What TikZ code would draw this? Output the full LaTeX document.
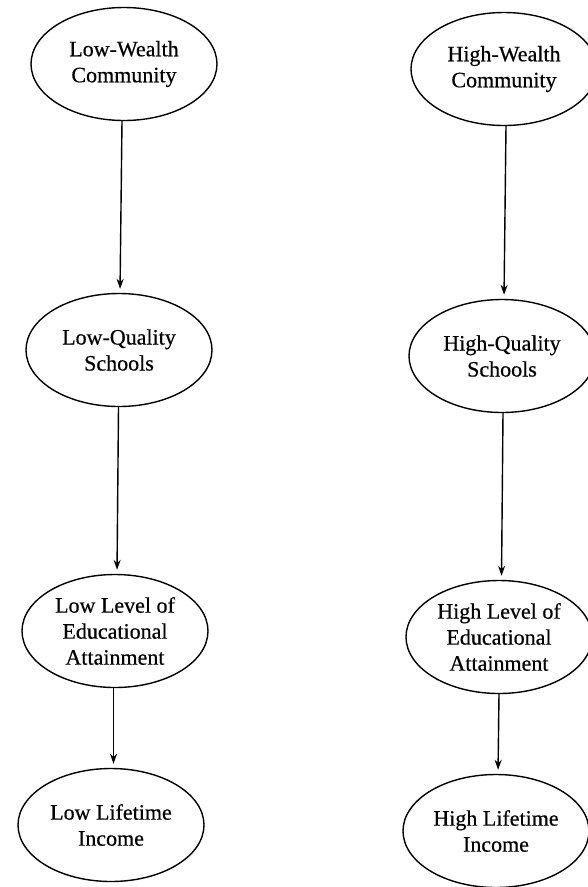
\documentclass[tikz,border=0pt]{standalone}
\usepackage{fontspec}
\setmainfont{Liberation Serif}
\newfontface\ovalfont{Liberation Serif}[FakeBold=0.5]
\usetikzlibrary{shapes.geometric,arrows.meta}
\begin{document}
\begin{tikzpicture}[x=1pt,y=-1pt,
  oval/.style={draw,ellipse,line width=1.4pt,minimum width=186pt,minimum height=113pt,inner sep=0pt,
    align=center,font=\ovalfont\fontsize{22}{26}\selectfont},
  flow/.style={line width=1.4pt,-{Stealth[length=10pt,width=7pt]},shorten >=4pt}]
\useasboundingbox (0,0) rectangle (588,887);
\node[oval] (lw) at (124,64) {Low-Wealth\\Community};
\node[oval] (lq) at (119,350) {Low-Quality\\Schools};
\node[oval] (ll) at (115,631) {Low Level of\\Educational\\Attainment};
\node[oval] (li) at (111,825) {Low Lifetime\\Income};
\node[oval] (hw) at (504,69) {High-Wealth\\Community};
\node[oval] (hq) at (502,356) {High-Quality\\Schools};
\node[oval] (hl) at (499,637) {High Level of\\Educational\\Attainment};
\node[oval] (hi) at (496,831) {High Lifetime\\Income};
\draw[flow] ([xshift=-2pt]lw.south) -- ([xshift=1pt]lq.north);
\draw[flow] ([xshift=-0.5pt]lq.south) -- ([xshift=2pt]ll.north);
\draw[flow] ([xshift=-1.5pt]ll.south) -- ([xshift=2.5pt]li.north);
\draw[flow] ([xshift=2pt]hw.south) -- ([xshift=2pt]hq.north);
\draw[flow] ([xshift=1pt]hq.south) -- ([xshift=2.5pt]hl.north);
\draw[flow] (hl.south) -- ([xshift=2pt]hi.north);
\end{tikzpicture}
\end{document}
